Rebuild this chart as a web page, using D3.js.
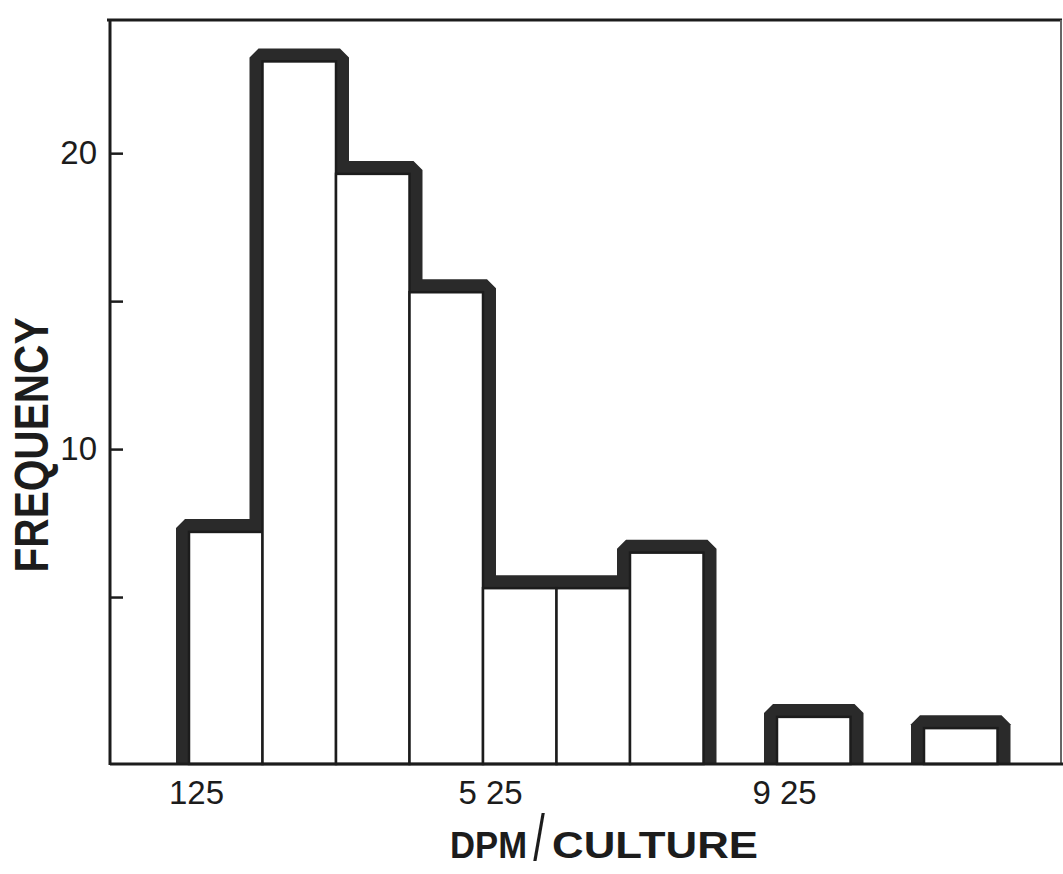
<!DOCTYPE html>
<html>
<head>
<meta charset="utf-8">
<script src="https://cdn.jsdelivr.net/npm/d3@7"></script>
<style>
  html, body { margin: 0; padding: 0; background: #fff; }
  svg { display: block; }
</style>
</head>
<body>
<script>
// Histogram of DPM per culture
const binStart = [125, 225, 325, 425, 525, 625, 725, 825, 925, 1025, 1125];
const binWidth = 100;
const counts   = [7.2, 23.1, 19.3, 15.3, 5.3, 5.3, 6.5, 0, 0.95, 0, 0.57];

const xTickValues = [125, 525, 925];
const xTickLabels = ["125", "5 25", "9 25"];
const yTickValues = [5, 10, 15, 20];
const yTickLabels = ["", "10", "", "20"];

const W = 1063, H = 874;
const frame = { left: 110, right: 1061, top: 20, bottom: 764 };
const ink = "#1c1c1c";
const band = "#2a2a2a";
const bandW = 13;     // thickness of the outer outline
const chamfer = 9;    // cut on convex outline corners

const svg = d3.select("body").append("svg")
  .attr("width", W).attr("height", H);

const x = d3.scaleLinear().domain([125, 1225]).range([189, 997.5]);
const y = d3.scaleLinear().domain([0, 24.5]).range([745, frame.top]);

const bars = binStart.map((b, i) => ({ x0: b, x1: b + binWidth, v: counts[i] }));

// contiguous runs of non-empty bins
const groups = [];
let cur = null;
bars.forEach(d => {
  if (d.v > 0) { if (!cur) { cur = []; groups.push(cur); } cur.push(d); }
  else cur = null;
});

// outer band: region grown outward by bandW, convex corners chamfered
function bandPath(g) {
  const base = frame.bottom;
  const w = bandW, c = chamfer;
  const p = d3.path();
  const first = g[0];
  const L = x(first.x0) - w;
  p.moveTo(L, base);
  p.lineTo(L, y(first.v) - w + c);
  p.lineTo(L + c, y(first.v) - w);
  for (let i = 0; i < g.length - 1; i++) {
    const a = g[i], b = g[i + 1];
    const e = x(a.x1);
    const ya = y(a.v) - w, yb = y(b.v) - w;
    if (b.v > a.v) {
      p.lineTo(e - w, ya);
      p.lineTo(e - w, yb + c);
      p.lineTo(e - w + c, yb);
    } else if (b.v < a.v) {
      p.lineTo(e + w - c, ya);
      p.lineTo(e + w, ya + c);
      p.lineTo(e + w, yb);
    }
  }
  const last = g[g.length - 1];
  const R = x(last.x1) + w;
  p.lineTo(R - c, y(last.v) - w);
  p.lineTo(R, y(last.v) - w + c);
  p.lineTo(R, base);
  p.closePath();
  return p.toString();
}

svg.append("g").selectAll("path")
  .data(groups).join("path")
  .attr("d", bandPath)
  .attr("fill", band);

// the bars themselves, white with thin dividers
svg.append("g").selectAll("rect")
  .data(bars.filter(d => d.v > 0)).join("rect")
  .attr("x", d => x(d.x0))
  .attr("width", d => x(d.x1) - x(d.x0))
  .attr("y", d => y(d.v))
  .attr("height", d => frame.bottom - y(d.v))
  .attr("fill", "#fff")
  .attr("stroke", ink)
  .attr("stroke-width", 2.5);

// frame: top and right edges
svg.append("line")
  .attr("x1", frame.left - 3).attr("x2", frame.right + 1)
  .attr("y1", frame.top).attr("y2", frame.top)
  .attr("stroke", ink).attr("stroke-width", 3);
svg.append("line")
  .attr("x1", frame.right).attr("x2", frame.right)
  .attr("y1", frame.top).attr("y2", frame.bottom)
  .attr("stroke", "#666").attr("stroke-width", 2);

// axis lines
svg.append("line")
  .attr("x1", frame.left).attr("x2", frame.left)
  .attr("y1", frame.top - 1).attr("y2", frame.bottom + 1)
  .attr("stroke", ink).attr("stroke-width", 3);
svg.append("line")
  .attr("x1", frame.left).attr("x2", W)
  .attr("y1", frame.bottom).attr("y2", frame.bottom)
  .attr("stroke", ink).attr("stroke-width", 3);

// y axis: inward ticks, labels on the left
const yAxis = svg.append("g")
  .attr("transform", `translate(${frame.left},0)`)
  .call(d3.axisLeft(y)
    .tickValues(yTickValues)
    .tickSize(-13)
    .tickPadding(13)
    .tickFormat((d, i) => yTickLabels[i]));
yAxis.select(".domain").remove();
yAxis.selectAll(".tick line").attr("stroke", ink).attr("stroke-width", 2.5);
yAxis.selectAll(".tick text")
  .attr("fill", ink)
  .style("font-family", "'Liberation Sans', Arial, sans-serif")
  .style("font-size", "33px");

// x axis labels
const xAxis = svg.append("g")
  .attr("transform", `translate(0,${frame.bottom})`)
  .call(d3.axisBottom(x)
    .tickValues(xTickValues)
    .tickSize(0)
    .tickPadding(17)
    .tickFormat((d, i) => xTickLabels[i]));
xAxis.select(".domain").remove();
xAxis.selectAll(".tick text")
  .attr("dx", 7)
  .attr("fill", ink)
  .style("font-family", "'Liberation Sans', Arial, sans-serif")
  .style("font-size", "33px");

// axis titles
svg.append("text")
  .attr("transform", "translate(48,445) rotate(-90)")
  .attr("text-anchor", "middle")
  .attr("textLength", 255)
  .attr("lengthAdjust", "spacingAndGlyphs")
  .attr("fill", ink)
  .style("font-family", "'Liberation Sans', Arial, sans-serif")
  .style("font-weight", "bold")
  .style("font-size", "48px")
  .text("FREQUENCY");

const title = svg.append("g")
  .attr("fill", ink)
  .style("font-family", "'Liberation Sans', Arial, sans-serif");
title.append("text")
  .attr("x", 450).attr("y", 858)
  .attr("textLength", 77)
  .attr("lengthAdjust", "spacingAndGlyphs")
  .style("font-weight", "bold").style("font-size", "37px")
  .text("DPM");
title.append("text")
  .attr("transform", "translate(539,860) scale(0.65,1)")
  .attr("text-anchor", "middle")
  .style("font-size", "64px")
  .text("/");
title.append("text")
  .attr("x", 552).attr("y", 858)
  .attr("textLength", 206)
  .attr("lengthAdjust", "spacingAndGlyphs")
  .style("font-weight", "bold").style("font-size", "37px")
  .text("CULTURE");
</script>
</body>
</html>
